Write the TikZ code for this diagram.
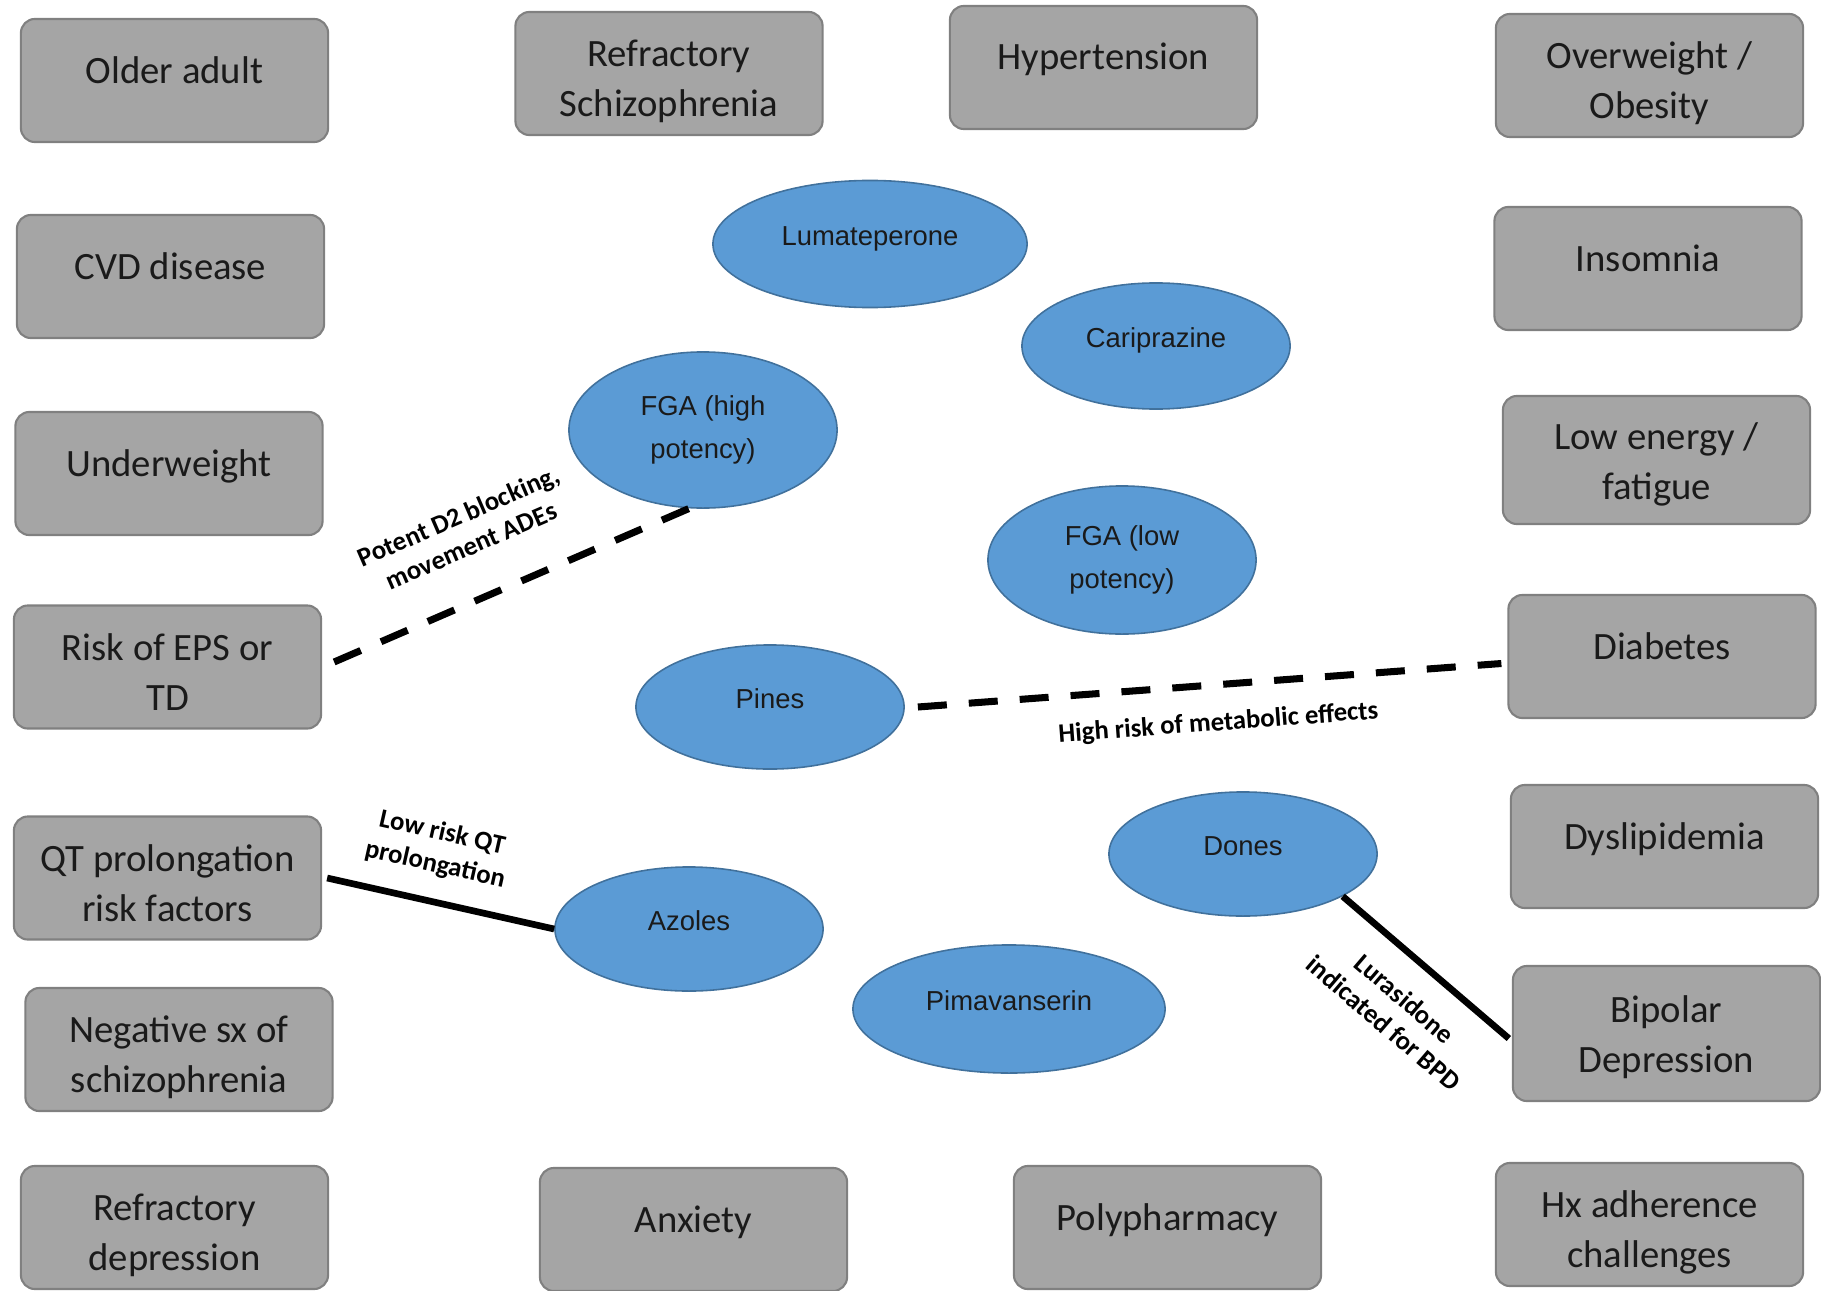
\documentclass[tikz,border=0pt]{standalone}
\usepackage{fontspec}
\setmainfont{Carlito}
\newfontfamily\drugfont{Liberation Sans}
\usetikzlibrary{shapes.geometric}
\definecolor{boxgray}{HTML}{A5A5A5}
\definecolor{boxedge}{HTML}{808080}
\definecolor{drugblue}{HTML}{5B9BD5}
\definecolor{drugedge}{HTML}{41719C}
\definecolor{ink}{HTML}{1A1A1A}

\begin{document}
\begin{tikzpicture}[
  x=0.01cm, y=-0.01cm,
  box/.style={draw=boxedge, line width=0.6pt, fill=boxgray, rounded corners=0.14cm,
    minimum width=3.07cm, minimum height=1.23cm, inner sep=0pt, align=center,
    text=ink, font=\fontsize{11}{14.2}\selectfont, text height=0.9cm, text depth=0.04cm},
  tallbox/.style={text height=0.82cm},
  oneline/.style={text height=0.3cm, text depth=0.25cm},
  drug/.style={ellipse, draw=drugedge, line width=0.45pt, fill=drugblue, inner sep=0pt,
    align=center, text=ink, font=\drugfont\fontsize{7.8}{12}\selectfont},
  single/.style={text height=0.21cm, text depth=0.19cm},
  dashline/.style={line width=2pt, dash pattern=on 0.29cm off 0.22cm},
  solidline/.style={line width=1.9pt},
  note/.style={font=\bfseries\fontsize{7.6}{9.2}\selectfont, align=center, sloped, inner sep=1pt}
]
  \useasboundingbox (0,0) rectangle (1821,1291);

  % left column
  \node[box, oneline] (older) at (174.5,80.5) {Older adult};
  \node[box, oneline] (cvd) at (170.5,276.5) {CVD disease};
  \node[box, oneline] (underweight) at (169,473.5) {Underweight};
  \node[box] (eps) at (167.5,667) {Risk of EPS or\\TD};
  \node[box] (qt) at (167.5,878) {QT prolongation\\risk factors};
  \node[box] (negsx) at (179,1049.5) {Negative sx of\\schizophrenia};
  \node[box] (refdep) at (174.5,1227.5) {Refractory\\depression};

  % top and bottom rows
  \node[box] (refschizo) at (669,73.5) {Refractory\\Schizophrenia};
  \node[box, oneline] (htn) at (1103.5,67.5) {Hypertension};
  \node[box, oneline] (anxiety) at (693.5,1229.5) {Anxiety};
  \node[box, oneline] (polypharm) at (1167.5,1227.5) {Polypharmacy};

  % right column
  \node[box] (obesity) at (1649.5,75.5) {Overweight /\\Obesity};
  \node[box, oneline] (insomnia) at (1648,268.5) {Insomnia};
  \node[box, tallbox, minimum height=1.28cm] (fatigue) at (1656.5,460) {Low energy /\\fatigue};
  \node[box, oneline] (diabetes) at (1662,656.5) {Diabetes};
  \node[box, oneline] (lipids) at (1664.5,846.5) {Dyslipidemia};
  \node[box, tallbox, minimum height=1.35cm] (bipolar) at (1666.5,1033.5) {Bipolar\\Depression};
  \node[box] (adherence) at (1649.5,1224.5) {Hx adherence\\challenges};

  % drugs
  \node[drug, single, minimum width=3.14cm, minimum height=1.27cm] (lumateperone) at (870,244) {Lumateperone};
  \node[drug, single, minimum width=2.68cm, minimum height=1.26cm] (cariprazine) at (1156,346) {Cariprazine};
  \node[drug, minimum width=2.68cm, minimum height=1.56cm] (fgahigh) at (703,430) {FGA (high\\potency)};
  \node[drug, minimum width=2.68cm, minimum height=1.48cm] (fgalow) at (1122,560) {FGA (low\\potency)};
  \node[drug, single, minimum width=2.68cm, minimum height=1.24cm] (pines) at (770,707) {Pines};
  \node[drug, single, minimum width=2.68cm, minimum height=1.24cm] (dones) at (1243,854) {Dones};
  \node[drug, single, minimum width=2.68cm, minimum height=1.24cm] (azoles) at (689,929) {Azoles};
  \node[drug, single, minimum width=3.12cm, minimum height=1.28cm] (pimavanserin) at (1009,1009) {Pimavanserin};

  % links
  \draw[dashline] ([xshift=0.12cm, yshift=0.05cm]eps.east) -- node[note, above=0.36cm, pos=0.445] {Potent D2 blocking,\\movement ADEs} (fgahigh.260);
  \draw[dashline] ([xshift=0.13cm]pines.east) -- node[note, below=0.2cm, pos=0.51] {High risk of metabolic effects} ([xshift=-0.06cm, yshift=-0.07cm]diabetes.west);
  \draw[solidline] ([xshift=0.05cm]qt.east) -- node[note, above=0.18cm, pos=0.44] {Low risk QT\\prolongation} (azoles.west);
  \draw[solidline] (dones.-23.5) -- node[note, below=0.21cm, pos=0.52] {Lurasidone\\indicated for BPD} ([xshift=-0.03cm, yshift=-0.05cm]bipolar.west);
\end{tikzpicture}
\end{document}
